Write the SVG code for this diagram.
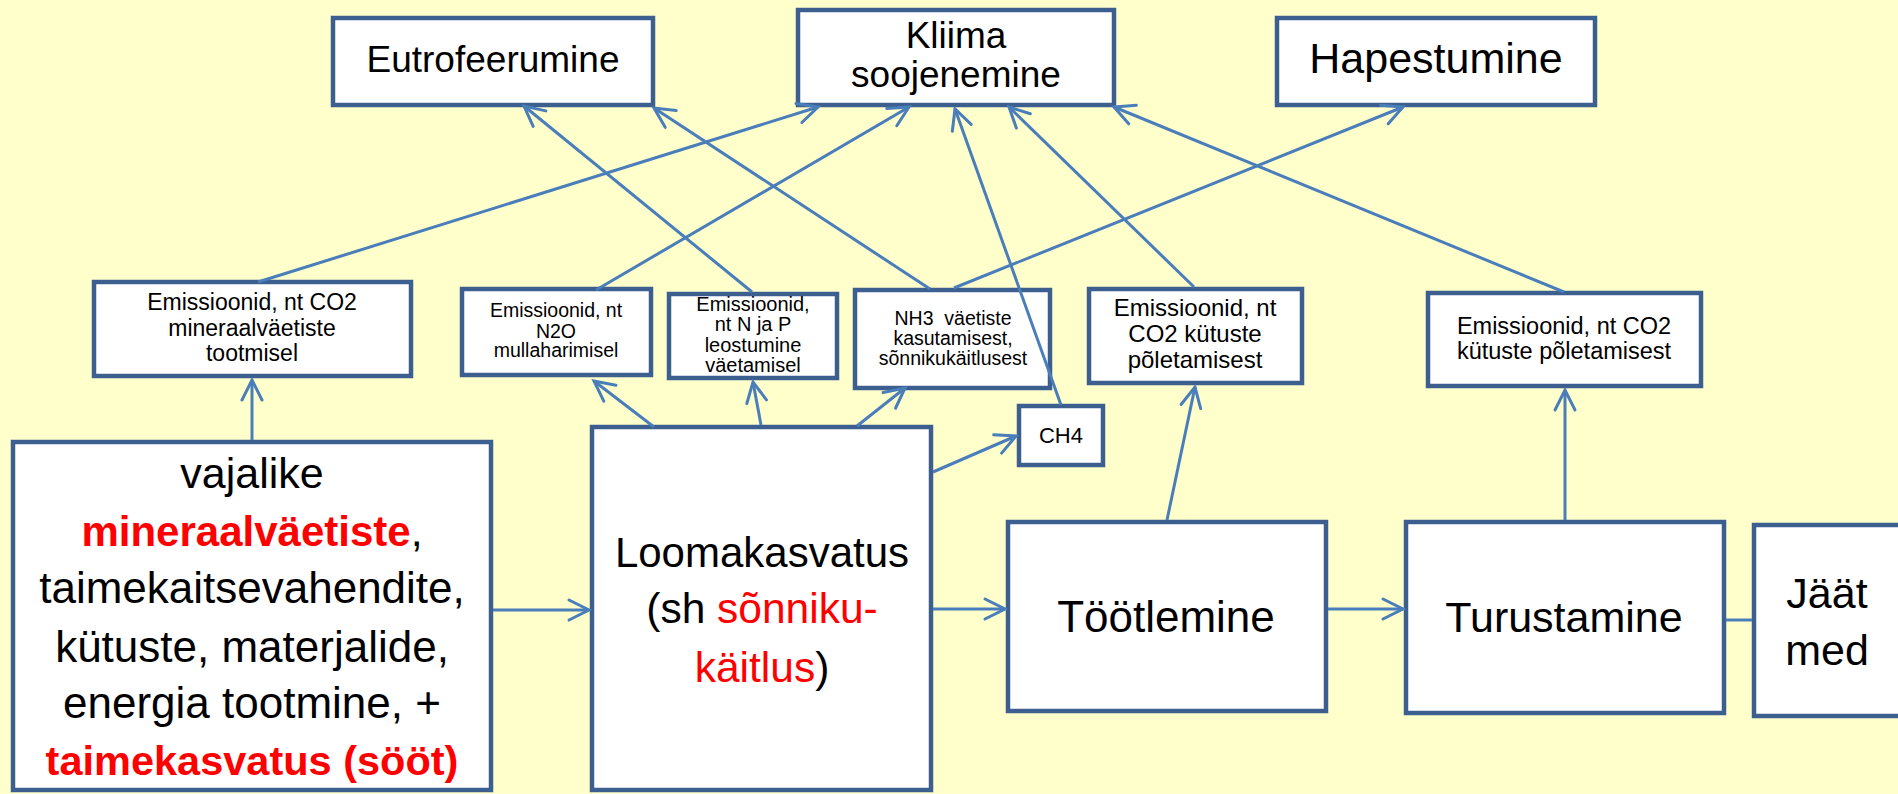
<svg xmlns="http://www.w3.org/2000/svg" width="1898" height="794" viewBox="0 0 1898 794">
<style>
.box{fill:#ffffff;stroke:#3c5f8f;stroke-width:4.5}
.t{font-family:"Liberation Sans",Arial,sans-serif;fill:#000;text-anchor:middle}
.red{fill:#ff0000}
.b{font-weight:bold}
.c{stroke:#4a7ebb;stroke-width:3;fill:none;marker-end:url(#arr)}
.cn{stroke:#4a7ebb;stroke-width:3;fill:none}
</style>
<defs>
<marker id="arr" markerUnits="userSpaceOnUse" viewBox="-25 -15 30 30" markerWidth="30" markerHeight="30" refX="0" refY="0" orient="auto" overflow="visible">
<path d="M-20,-10 L0,0 L-20,10" fill="none" stroke="#4a7ebb" stroke-width="3" stroke-linecap="round"/>
</marker>
</defs>
<rect x="0" y="0" width="1898" height="794" fill="#ffffcc"/>

<g id="eutrofeerumine">
<rect class="box" x="333" y="18" width="320" height="87"/>
<text class="t" x="493" y="72" font-size="37">Eutrofeerumine</text>
</g>
<g id="kliima">
<rect class="box" x="798" y="10" width="316" height="95"/>
<text class="t" x="956" y="48" font-size="37">Kliima</text>
<text class="t" x="956" y="87" font-size="37">soojenemine</text>
</g>
<g id="hapestumine">
<rect class="box" x="1277" y="18" width="318" height="87"/>
<text class="t" x="1436" y="73" font-size="43">Hapestumine</text>
</g>

<g id="em-co2-mineraal">
<rect class="box" x="94" y="282" width="317" height="94"/>
<text class="t" x="252" y="310" font-size="23">Emissioonid, nt CO2</text>
<text class="t" x="252" y="336" font-size="23">mineraalväetiste</text>
<text class="t" x="252" y="361" font-size="23">tootmisel</text>
</g>
<g id="em-n2o">
<rect class="box" x="462" y="289" width="189" height="86"/>
<text class="t" x="556" y="317" font-size="19.5">Emissioonid, nt</text>
<text class="t" x="556" y="338" font-size="19.5">N2O</text>
<text class="t" x="556" y="357" font-size="19.5">mullaharimisel</text>
</g>
<g id="em-njap">
<rect class="box" x="669" y="294" width="168" height="84"/>
<text class="t" x="753" y="311" font-size="20">Emissioonid,</text>
<text class="t" x="753" y="331" font-size="20">nt N ja P</text>
<text class="t" x="753" y="352" font-size="20">leostumine</text>
<text class="t" x="753" y="372" font-size="20">väetamisel</text>
</g>
<g id="nh3">
<rect class="box" x="855" y="290" width="195" height="98"/>
<text class="t" x="953" y="325" font-size="19.5" style="white-space:pre">NH3  väetiste</text>
<text class="t" x="953" y="345" font-size="19.5">kasutamisest,</text>
<text class="t" x="953" y="365" font-size="19.5">sõnnikukäitlusest</text>
</g>
<g id="ch4">
<rect class="box" x="1019" y="406" width="84" height="59"/>
<text class="t" x="1061" y="443" font-size="22">CH4</text>
</g>
<g id="em-co2-kytus-1">
<rect class="box" x="1089" y="289" width="213" height="94"/>
<text class="t" x="1195" y="316" font-size="24">Emissioonid, nt</text>
<text class="t" x="1195" y="342" font-size="24">CO2 kütuste</text>
<text class="t" x="1195" y="368" font-size="24">põletamisest</text>
</g>
<g id="em-co2-kytus-2">
<rect class="box" x="1428" y="293" width="273" height="93"/>
<text class="t" x="1564" y="334" font-size="23.5">Emissioonid, nt CO2</text>
<text class="t" x="1564" y="359" font-size="23.5">kütuste põletamisest</text>
</g>

<g id="vajalike">
<rect class="box" x="13" y="442" width="478" height="348"/>
<text class="t" x="252" y="488" font-size="43">vajalike</text>
<text class="t" x="252" y="546" font-size="43"><tspan class="red b" font-size="42">mineraalväetiste</tspan>,</text>
<text class="t" x="252" y="603" font-size="44">taimekaitsevahendite,</text>
<text class="t" x="252" y="662" font-size="44">kütuste, materjalide,</text>
<text class="t" x="252" y="718" font-size="44">energia tootmine, +</text>
<text class="t red b" x="252" y="775" font-size="41.5">taimekasvatus (sööt)</text>
</g>
<g id="loomakasvatus">
<rect class="box" x="592" y="427" width="339" height="363"/>
<text class="t" x="762" y="567" font-size="42">Loomakasvatus</text>
<text class="t" x="762" y="623" font-size="42.5">(sh <tspan class="red">sõnniku-</tspan></text>
<text class="t" x="762" y="682" font-size="42.5"><tspan class="red">käitlus</tspan>)</text>
</g>
<g id="tootlemine">
<rect class="box" x="1008" y="522" width="318" height="189"/>
<text class="t" x="1166" y="632" font-size="44">Töötlemine</text>
</g>
<g id="turustamine">
<rect class="box" x="1406" y="522" width="318" height="191"/>
<text class="t" x="1564" y="632" font-size="43">Turustamine</text>
</g>
<g id="jaatmed">
<rect class="box" x="1754" y="525" width="160" height="191"/>
<text class="t" x="1827" y="608" font-size="43">Jäät</text>
<text class="t" x="1827" y="665" font-size="43">med</text>
</g>

<g id="connectors">
<line class="c" x1="493" y1="610" x2="589" y2="610"/>
<line class="c" x1="933" y1="609" x2="1005" y2="609"/>
<line class="c" x1="1328" y1="609" x2="1403" y2="609"/>
<line class="cn" x1="1726" y1="620" x2="1752" y2="620"/>
<line class="c" x1="252" y1="440" x2="252" y2="380"/>
<line class="c" x1="654" y1="427" x2="594" y2="381"/>
<line class="c" x1="761" y1="425" x2="753" y2="382"/>
<line class="c" x1="857" y1="426" x2="905" y2="388"/>
<line class="c" x1="933" y1="472" x2="1016" y2="436"/>
<line class="c" x1="1061" y1="405" x2="955" y2="109"/>
<line class="c" x1="1167" y1="520" x2="1195" y2="387"/>
<line class="c" x1="1565" y1="520" x2="1565" y2="390"/>
<line class="c" x1="258" y1="282" x2="818" y2="107"/>
<line class="c" x1="596" y1="290" x2="909" y2="107"/>
<line class="c" x1="752" y1="292" x2="524" y2="106"/>
<line class="c" x1="930" y1="289" x2="654" y2="108"/>
<line class="c" x1="954" y1="288" x2="1403" y2="107"/>
<line class="c" x1="1194" y1="287" x2="1009" y2="107"/>
<line class="c" x1="1564" y1="292" x2="1114" y2="107"/>
</g>
</svg>
